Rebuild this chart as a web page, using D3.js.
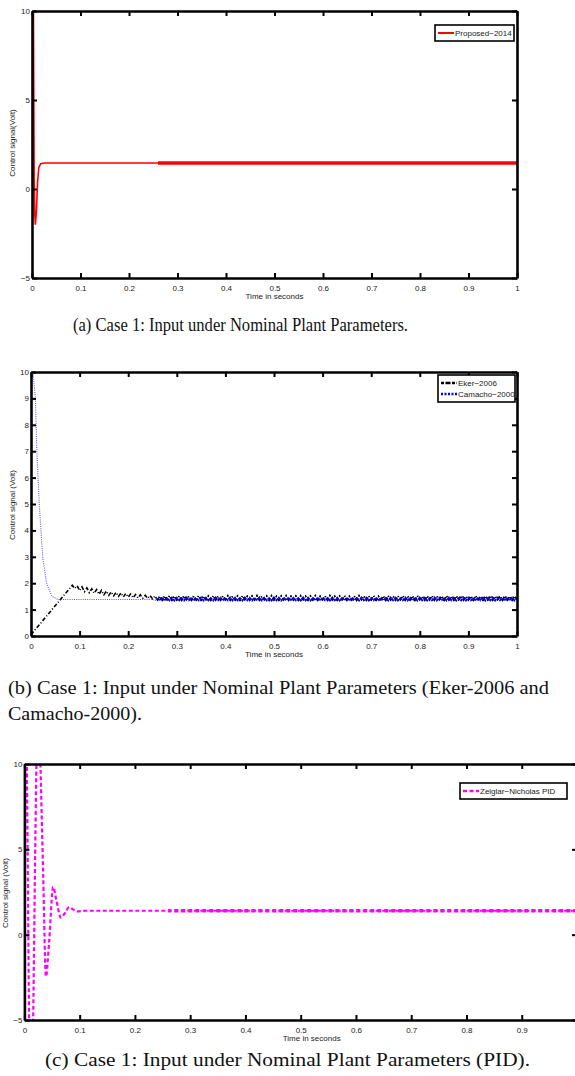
<!DOCTYPE html>
<html>
<head>
<meta charset="utf-8">
<script src="https://cdn.jsdelivr.net/npm/d3@7"></script>
<style>
  body { margin: 0; background: #fff; }
  svg { display: block; }
  .tick text { font-family: "Liberation Sans", Arial, sans-serif; font-size: 8px; fill: #222; }
  .caption { font-family: "Liberation Serif", "DejaVu Serif", serif; font-size: 18px; fill: #111; }
  .small { font-family: "Liberation Sans", Arial, sans-serif; font-size: 8px; fill: #222; }
</style>
</head>
<body>
<svg id="chart"></svg>
<script>
// ---- data ----
const timeTicks = [0, 0.1, 0.2, 0.3, 0.4, 0.5, 0.6, 0.7, 0.8, 0.9, 1];
const yTicksA = [-5, 0, 5, 10];
const yTicksB = [0, 1, 2, 3, 4, 5, 6, 7, 8, 9, 10];
const yTicksC = [-5, 0, 5, 10];

// (a) proposed-2014
const proposedT = [0, 0.0015, 0.0028, 0.0045, 0.0058, 0.007, 0.0092, 0.0115, 0.014, 0.018, 0.025, 0.1, 0.5, 1];
const proposedV = [0, 11, 11, 0.5, -1.5, -2.0, -1.2, 0.4, 1.2, 1.42, 1.46, 1.46, 1.46, 1.46];

// (b) Eker-2006 : ramp, then sampled oscillation every 5 ms from 0.09 s
const ekerHeadT = [0, 0.085];
const ekerHeadV = [0.05, 1.92];
const ekerTailStart = 0.09, tailStep = 0.005;
const ekerTail = [
  1.80, 1.90, 1.72, 1.86, 1.68, 1.82, 1.64, 1.79, 1.62, 1.76,
  1.58, 1.73, 1.56, 1.70, 1.54, 1.67, 1.52, 1.65, 1.50, 1.63,
  1.48, 1.61, 1.47, 1.59, 1.45, 1.57, 1.44, 1.56, 1.43, 1.54,
  1.42, 1.53, 1.41,
  1.52, 1.37, 1.50, 1.36, 1.51, 1.38, 1.52, 1.36, 1.50, 1.37,
  1.51, 1.36, 1.52, 1.38, 1.50, 1.36, 1.51, 1.37, 1.52, 1.36,
  1.50, 1.38, 1.51, 1.36, 1.52, 1.37, 1.50, 1.36, 1.51, 1.38,
  1.52, 1.36, 1.50, 1.37, 1.51, 1.36, 1.52, 1.38, 1.50, 1.36,
  1.51, 1.37, 1.52, 1.36, 1.50, 1.38, 1.51, 1.36, 1.52, 1.37,
  1.50, 1.36, 1.51, 1.38, 1.52, 1.36, 1.50, 1.37, 1.51, 1.36,
  1.52, 1.38, 1.50, 1.36, 1.51, 1.37, 1.52, 1.36, 1.50, 1.38,
  1.51, 1.36, 1.52, 1.37, 1.50, 1.36, 1.51, 1.38, 1.52, 1.36,
  1.50, 1.37, 1.51, 1.36, 1.52, 1.38, 1.50, 1.36, 1.51, 1.37,
  1.52, 1.36, 1.50, 1.38, 1.51, 1.36, 1.52, 1.37, 1.50, 1.36,
  1.51, 1.38, 1.52, 1.36, 1.50, 1.37, 1.51, 1.36, 1.52, 1.38,
  1.50, 1.36, 1.51, 1.37, 1.52, 1.36, 1.50, 1.38, 1.51, 1.36,
  1.52, 1.37, 1.50, 1.36, 1.51, 1.38, 1.52, 1.36, 1.50, 1.37,
  1.51, 1.36, 1.52, 1.38, 1.50, 1.36, 1.51, 1.37, 1.52, 1.36,
  1.50, 1.38, 1.51, 1.36, 1.52, 1.37, 1.50, 1.36, 1.51, 1.38
];

// (b) Camacho-2000 : fast decay, flat, then sampled ripple from 0.255 s
const camachoHeadT = [0, 0.004, 0.009, 0.012, 0.017, 0.024, 0.032, 0.043, 0.056, 0.1, 0.2, 0.25];
const camachoHeadV = [10, 10, 9, 7, 5, 3, 2, 1.5, 1.38, 1.38, 1.38, 1.39];
const camachoTailStart = 0.255;
const camachoTail = [
  1.34, 1.45, 1.35, 1.46, 1.34, 1.44, 1.35, 1.46, 1.34, 1.45,
  1.35, 1.44, 1.34, 1.46, 1.35, 1.45, 1.34, 1.44, 1.35, 1.46,
  1.34, 1.45, 1.35, 1.44, 1.34, 1.46, 1.35, 1.45, 1.34, 1.44,
  1.35, 1.46, 1.34, 1.45, 1.35, 1.44, 1.34, 1.46, 1.35, 1.45,
  1.34, 1.44, 1.35, 1.46, 1.34, 1.45, 1.35, 1.44, 1.34, 1.46,
  1.35, 1.45, 1.34, 1.44, 1.35, 1.46, 1.34, 1.45, 1.35, 1.44,
  1.34, 1.46, 1.35, 1.45, 1.34, 1.44, 1.35, 1.46, 1.34, 1.45,
  1.35, 1.44, 1.34, 1.46, 1.35, 1.45, 1.34, 1.44, 1.35, 1.46,
  1.34, 1.45, 1.35, 1.44, 1.34, 1.46, 1.35, 1.45, 1.34, 1.44,
  1.35, 1.46, 1.34, 1.45, 1.35, 1.44, 1.34, 1.46, 1.35, 1.45,
  1.34, 1.44, 1.35, 1.46, 1.34, 1.45, 1.35, 1.44, 1.34, 1.46,
  1.35, 1.45, 1.34, 1.44, 1.35, 1.46, 1.34, 1.45, 1.35, 1.44,
  1.34, 1.46, 1.35, 1.45, 1.34, 1.44, 1.35, 1.46, 1.34, 1.45,
  1.35, 1.44, 1.34, 1.46, 1.35, 1.45, 1.34, 1.44, 1.35, 1.46,
  1.34, 1.45, 1.35, 1.44, 1.34, 1.46, 1.35, 1.45, 1.34, 1.44
];

// (c) Zeiglar-Nicholas PID
const pidT = [0, 0.005, 0.0085, 0.012, 0.0158, 0.02, 0.025, 0.029, 0.034, 0.039, 0.045, 0.052, 0.058, 0.066, 0.074, 0.081, 0.088, 0.096, 0.11, 0.5, 1];
const pidV = [22, 8, -5, -11, -5, 6, 15, 10, 3.5, -2.45, -0.3, 2.8, 2.0, 1.0, 1.3, 1.62, 1.48, 1.36, 1.4, 1.4, 1.4];

// ---- build series ----
const zip = (ts, vs) => ts.map((t, i) => [t, vs[i]]);
const sampled = (start, vs) => vs.map((v, i) => [start + i * tailStep, v]);

const proposed = zip(proposedT, proposedV);
const eker = zip(ekerHeadT, ekerHeadV).concat(sampled(ekerTailStart, ekerTail));
const camacho = zip(camachoHeadT, camachoHeadV).concat(sampled(camachoTailStart, camachoTail));
const pid = zip(pidT, pidV);

const width = 575, height = 1076;
const svg = d3.select("#chart").attr("width", width).attr("height", height);
const defs = svg.append("defs");

const drawPanel = (cfg) => {
  const x = d3.scaleLinear().domain([0, 1]).range([cfg.x0, cfg.x1]);
  const y = d3.scaleLinear().domain(cfg.yDomain).range([cfg.yBot, cfg.yTop]);
  const g = svg.append("g");

  defs.append("clipPath").attr("id", cfg.id + "-clip")
    .append("rect")
    .attr("x", cfg.x0).attr("y", cfg.yTop)
    .attr("width", cfg.x1 - cfg.x0).attr("height", cfg.yBot - cfg.yTop);
  // the later part of every trace prints heavier in the reference
  defs.append("clipPath").attr("id", cfg.id + "-tail")
    .append("rect")
    .attr("x", x(0.26)).attr("y", cfg.yTop)
    .attr("width", cfg.x1 - x(0.26)).attr("height", cfg.yBot - cfg.yTop);
  defs.append("clipPath").attr("id", cfg.id + "-head")
    .append("rect")
    .attr("x", cfg.x0).attr("y", cfg.yTop)
    .attr("width", x(0.003) - cfg.x0).attr("height", cfg.yBot - cfg.yTop);

  const plot = g.append("g").attr("clip-path", `url(#${cfg.id}-clip)`);
  cfg.series.forEach((s) => {
    const line = d3.line().x((d) => x(d[0])).y((d) => y(d[1])).curve(s.curve || d3.curveMonotoneX);
    plot.append("path")
      .attr("d", line(s.data))
      .attr("fill", "none")
      .attr("stroke", s.color)
      .attr("stroke-width", s.width)
      .attr("stroke-dasharray", s.dash || null);
    plot.append("g").attr("clip-path", `url(#${cfg.id}-tail)`)
      .append("path")
      .attr("d", line(s.data))
      .attr("fill", "none")
      .attr("stroke", s.tailColor || s.color)
      .attr("stroke-width", s.tailWidth)
      .attr("stroke-dasharray", s.tailDash || s.dash || null);
    if (s.headWidth) {
      plot.append("g").attr("clip-path", `url(#${cfg.id}-head)`)
        .append("path")
        .attr("d", line(s.data))
        .attr("fill", "none")
        .attr("stroke", s.color)
        .attr("stroke-width", s.headWidth);
    }
  });

  const styleAxis = (a) => {
    a.select(".domain").attr("stroke", "#000").attr("stroke-width", 2.6);
    a.selectAll(".tick line").attr("stroke", "#000").attr("stroke-width", 2);
  };

  g.append("g").attr("transform", `translate(0,${cfg.yBot})`)
    .call(d3.axisBottom(x).tickValues(timeTicks).tickSize(-5).tickSizeOuter(0).tickPadding(7).tickFormat((d) => String(d)))
    .call(styleAxis)
    .selectAll(".tick text")
    .filter((d) => x(d) > width - 2)
    .remove();
  g.append("g").attr("transform", `translate(0,${cfg.yTop})`)
    .call(d3.axisTop(x).tickValues(timeTicks).tickSize(-5).tickSizeOuter(0).tickFormat(""))
    .call(styleAxis);
  g.append("g").attr("transform", `translate(${cfg.x0},0)`)
    .call(d3.axisLeft(y).tickValues(cfg.yTicks).tickSize(-5).tickSizeOuter(0).tickPadding(2))
    .call(styleAxis);
  g.append("g").attr("transform", `translate(${cfg.x1},0)`)
    .call(d3.axisRight(y).tickValues(cfg.yTicks).tickSize(-5).tickSizeOuter(0).tickFormat(""))
    .call(styleAxis);

  g.selectAll(".tick text").attr("font-family", null).attr("font-size", null);

  g.append("text").attr("class", "small")
    .attr("x", (cfg.x0 + Math.min(cfg.x1, width)) / 2 + (cfg.xLabelShift || 0))
    .attr("y", cfg.yBot + 21)
    .attr("text-anchor", "middle")
    .text("Time in seconds");

  g.append("text").attr("class", "small")
    .attr("transform", `translate(${cfg.yLabelX},${cfg.yLabelY}) rotate(-90)`)
    .attr("text-anchor", "middle")
    .text(cfg.yLabel);

  // legend
  const lg = g.append("g").attr("transform", `translate(${cfg.legend.x},${cfg.legend.y})`);
  lg.append("rect")
    .attr("width", cfg.legend.w)
    .attr("height", cfg.series.length * 11 + 5)
    .attr("fill", "#fff").attr("stroke", "#000").attr("stroke-width", 1.6);
  cfg.series.forEach((s, i) => {
    const cy = 8 + i * 11;
    lg.append("line")
      .attr("x1", 3).attr("x2", 19).attr("y1", cy).attr("y2", cy)
      .attr("stroke", s.legendColor || s.color)
      .attr("stroke-width", s.legendWidth || 2)
      .attr("stroke-dasharray", s.legendDash || s.dash || null);
    lg.append("text").attr("class", "small")
      .attr("x", 20).attr("y", cy + 3)
      .text(s.label);
  });
};

drawPanel({
  id: "a", x0: 32, x1: 517, yTop: 11, yBot: 278,
  yDomain: [-5, 10], yTicks: yTicksA,
  yLabel: "Control signal(Volt)", yLabelX: 15, yLabelY: 143,
  legend: { x: 435, y: 25, w: 79 },
  series: [
    { label: "Proposed\u22122014", data: proposed, color: "#ff0000", width: 1.6, headWidth: 3, tailWidth: 3.4, curve: d3.curveLinear, legendWidth: 2 }
  ]
});

drawPanel({
  id: "b", x0: 31, x1: 517, yTop: 372, yBot: 636,
  yDomain: [0, 10], yTicks: yTicksB,
  yLabel: "Control signal (Volt)", yLabelX: 15, yLabelY: 505,
  legend: { x: 438, y: 375, w: 77 },
  series: [
    { label: "Eker\u22122006", data: eker, color: "#000", width: 1.6, tailWidth: 1.8, dash: "4,2,1,2", curve: d3.curveLinear, legendWidth: 2.4, legendDash: "3,1.5,5,1.5" },
    { label: "Camacho\u22122000", data: camacho, color: "#5a5aff", width: 1.1, dash: "1,1.2", tailColor: "#0000ee", tailWidth: 1.8, tailDash: "3,1", curve: d3.curveLinear, legendColor: "#0000ff", legendWidth: 2.4, legendDash: "2,1.5" }
  ]
});

drawPanel({
  id: "c", x0: 24.4, x1: 577, yTop: 764, yBot: 1020,
  yDomain: [-5, 10], yTicks: yTicksC, xLabelShift: 12,
  yLabel: "Control signal (Volt)", yLabelX: 8, yLabelY: 893,
  legend: { x: 460, y: 783, w: 107 },
  series: [
    { label: "Zeiglar\u2212Nicholas PID", data: pid, color: "#ff00ff", width: 2.2, dash: "4,2.5", tailWidth: 3.6, tailDash: "4,3", curve: d3.curveMonotoneX, legendWidth: 2.4, legendDash: "4,2.5" }
  ]
});

// captions
const caption = (txt, x, y, len) =>
  svg.append("text").attr("class", "caption")
    .attr("x", x).attr("y", y)
    .attr("textLength", len).attr("lengthAdjust", "spacingAndGlyphs")
    .text(txt);

caption("(a) Case 1: Input under Nominal Plant Parameters.", 73, 331, 335);
caption("(b) Case 1: Input under Nominal Plant Parameters (Eker-2006 and", 8, 694, 541);
caption("Camacho-2000).", 8, 720, 134);
caption("(c) Case 1: Input under Nominal Plant Parameters (PID).", 45, 1066, 485);
</script>
</body>
</html>
